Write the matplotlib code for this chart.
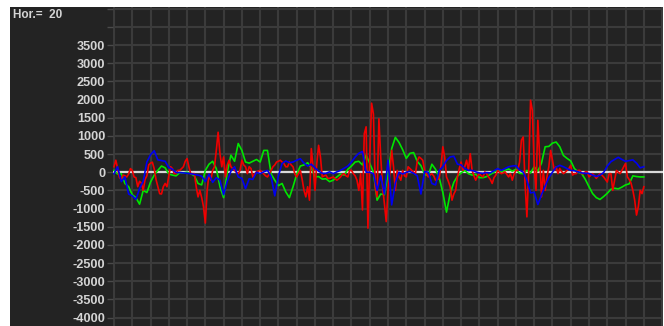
import matplotlib
matplotlib.use("Agg")
import matplotlib.pyplot as plt
from matplotlib.patches import Rectangle
import numpy as np

# Fast oscillator, one sample every tenth of a grid column
red = [150, 330, 100, -150, -200, -80, -100, -130, -50, 100,
       50, -130, -150, -400, -250, -300, -500, -200, -100, 200,
       250, 275, 100, -200, -400, -590, -600, -400, -310, -400,
       -100, 150, 100, -40, -40, 50, 50, 100, 150, 300,
       375, 150, -40, -40, -40, -400, -680, -500, -700, -950,
       -1400, -500, -50, -220, 50, 150, 600, 1100, 510, 150,
       420, -130, 200, 330, 150, 100, 50, 0, -40, 50,
       330, 200, 150, -40, 150, 100, -130, -50, 10, 30,
       50, 0, -50, -100, -130, -50, 50, 150, 200, 280,
       300, 330, 280, 240, 150, 150, 280, 200, 150, -50,
       -130, -40, 50, -200, -500, -680, -400, -770, 650, 150,
       -500, 240, 740, 420, -130, -100, -80, -170, -170, -150,
       -130, -180, -220, -180, -130, -60, -40, -100, -130, 50,
       50, -40, -100, -220, -500, -40, -1040, 1060, 1250, -1540,
       420, 1900, 1600, -400, -680, 1470, 420, -400, -860, -1360,
       -500, -40, 600, 150, -500, 50, -130, -220, 50, -100,
       -130, 150, 100, 50, 0, -40, 300, 420, 380, 330,
       50, -40, -130, -80, -40, -100, -220, -200, -170, 200,
       700, 420, -130, -250, -400, -770, -600, -500, -130, 100,
       280, 50, 150, 330, 50, 510, 50, -100, -220, -100,
       -40, -100, -130, 10, -50, -130, -200, -310, -150, -80,
       50, 0, -40, -20, 10, -60, -130, -40, -220, -50,
       50, 50, 280, 880, 970, -310, -1230, 50, 1980, 1700,
       150, -500, 1430, 420, -680, 50, -500, -130, 150, 600,
       330, 50, 150, -40, 100, 20, -40, 0, 50, 100,
       190, -80, -40, -40, 50, 50, -40, -40, 10, 10,
       -130, -80, -40, -100, -170, -100, -40, -80, -130, -200,
       -270, -40, -40, -500, -220, 50, 0, -40, 50, 150,
       240, -130, -200, -300, -500, -770, -1180, -950, -500, -590,
       -400]

# Slower oscillators, one sample every fifth of a grid column
green = [50, -50, -40, -310, -400, -620, -700, -880, -500, -560,
         -270, -80, 50, 170, 120, -50, -80, -100, -10, -20,
         0, -40, -100, -310, -350, 50, 220, 300, 100, -400,
         -700, 0, 470, 300, 790, 600, 280, 250, 300, 350,
         280, 600, 600, -50, -220, -370, -310, -540, -700, -400,
         -60, 170, 200, 260, 120, -130, -120, -190, -180, -260,
         -220, -130, -50, -80, 80, 170, 280, 300, 200, 470,
         240, 0, -770, -600, -620, -40, 650, 960, 820, 620,
         380, 520, 540, 300, 180, -60, -100, 220, 80, -150,
         -560, -1100, -590, -280, -110, -20, 50, -40, -80, -60,
         -150, -150, -120, -60, 0, 50, 10, 50, 90, 30,
         80, -30, -40, 50, -20, 150, 30, 250, 700, 710,
         800, 830, 700, 460, 380, 310, 100, 10, -40, -200,
         -400, -590, -700, -750, -670, -580, -470, -440, -460, -410,
         -350, -320, -100, -120, -130, -130]

blue = [-40, 150, -260, -130, -600, -650, -750, -450, -250, 280,
        480, 590, 340, 320, 300, 130, 80, -10, -10, -20,
        -30, -40, -60, -80, -110, -260, -50, -280, -150, -220,
        -620, -250, 30, 150, -130, -170, -450, -180, -200, 0,
        -40, 10, 50, -120, -650, -100, 240, 310, 260, 280,
        330, 370, 250, 170, 220, 120, 30, -30, -30, 10,
        -40, 10, 50, 110, 170, 280, 420, 520, 570, 0,
        0, -40, -500, -100, -600, 330, -900, -300, 0, -50,
        0, 20, -30, -100, -600, 20, 0, -310, -350, 50,
        150, 320, 420, 440, 220, 200, 100, 50, 50, 10,
        -20, -30, -10, -20, 40, 100, 50, 100, 150, 170,
        180, 60, 0, -220, -570, -550, -890, -620, -380, -150,
        0, 140, 190, 150, 100, 50, 40, 10, -20, -30,
        -35, -80, -120, -80, -10, 170, 290, 350, 410, 350,
        300, 320, 340, 250, 120, 150]

y_ticks = list(range(-4000, 4501, 500))
y_labels = [str(v) if v <= 3500 else "" for v in y_ticks]
header_text = "Hor.=  20"

BG = "#232323"
GRID = "#3b3b3b"
TEXT = "#d4d4d4"

W, H = 664, 326
fig = plt.figure(figsize=(W / 100, H / 100), dpi=100, facecolor="white")
panel = Rectangle((10 / W, 0), (663 - 10) / W, (H - 7) / H,
                  transform=fig.transFigure, facecolor=BG,
                  edgecolor="none", zorder=-10)
fig.add_artist(panel)

ax = fig.add_axes([113 / W, 0, (663 - 113) / W, (H - 7) / H])
ax.set_facecolor(BG)
for s in ax.spines.values():
    s.set_visible(False)

x_fast = np.arange(len(red)) * 0.5
x_slow = np.arange(len(green))
ax.axhline(0, color="#d8d8d8", lw=1.6, zorder=2)
ax.plot(x_slow, green, color="#00e600", lw=1.2, zorder=3)
ax.plot(x_fast, red, color="#f00000", lw=1.2, zorder=4)
ax.plot(x_slow, blue, color="#0000f0", lw=1.2, zorder=5)

ax.set_xlim(-0.27, 150.25)
ax.set_ylim(-4233, 4547)
ax.set_xticks(np.arange(0, 151, 5))
ax.set_xticklabels([])
ax.set_yticks(y_ticks)
ax.set_yticklabels(y_labels)
ax.tick_params(axis="x", length=0)
ax.tick_params(axis="y", length=4, width=1, color="#4a4a4a", pad=1.5,
               labelcolor=TEXT, labelsize=9.2)
for lab in ax.get_yticklabels():
    lab.set_fontfamily("Liberation Sans")
    lab.set_fontweight("bold")
ax.grid(True, color=GRID, lw=1.5, zorder=1)
ax.set_axisbelow(True)

fig.text(13 / W, 1 - 15 / H, header_text, ha="left", va="center",
         color=TEXT, fontsize=8.5, fontweight="bold",
         fontfamily="Liberation Sans")

fig.savefig("out.png", dpi=100, facecolor="white")
